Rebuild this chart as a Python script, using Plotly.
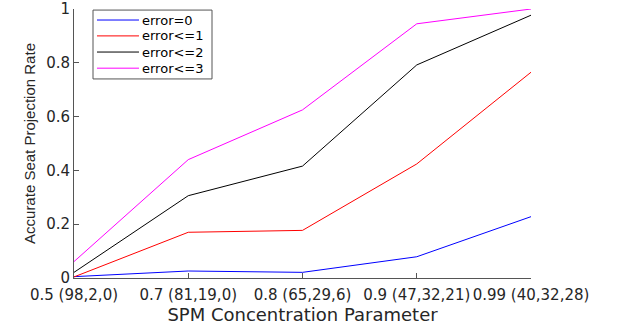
import plotly.graph_objects as go

categories = ["0.5 (98,2,0)", "0.7 (81,19,0)", "0.8 (65,29,6)", "0.9 (47,32,21)", "0.99 (40,32,28)"]
err0 = [0.005, 0.026, 0.021, 0.079, 0.228]
err1 = [0.004, 0.170, 0.177, 0.424, 0.765]
err2 = [0.021, 0.306, 0.416, 0.792, 0.977]
err3 = [0.061, 0.440, 0.625, 0.945, 1.000]
series_names = ["error=0", "error<=1", "error<=2", "error<=3"]
series_colors = ["#0000ff", "#ff0000", "#000000", "#ff00ff"]
y_ticks = [0, 0.2, 0.4, 0.6, 0.8, 1]

fig = go.Figure()
for name, vals, col in zip(series_names, [err0, err1, err2, err3], series_colors):
    fig.add_trace(go.Scatter(x=categories, y=vals, mode="lines", name=name,
                             line=dict(color=col, width=1), showlegend=False))

# legend box drawn in axis-domain coordinates
lg_x0, lg_x1, lg_y0, lg_y1 = 0.0416, 0.302, 0.740, 0.996
fig.add_shape(type="rect", xref="x domain", yref="y domain",
              x0=lg_x0, x1=lg_x1, y0=lg_y0, y1=lg_y1,
              line=dict(color="#555555", width=1), fillcolor="white", layer="above")
item_y = [0.959, 0.900, 0.840, 0.780]
for name, col, yy in zip(series_names, series_colors, item_y):
    fig.add_shape(type="line", xref="x domain", yref="y domain",
                  x0=0.0503, x1=0.1422, y0=yy, y1=yy,
                  line=dict(color=col, width=1), layer="above")
    fig.add_annotation(xref="x domain", yref="y domain", x=0.1444, y=yy,
                       text=name, showarrow=False, xanchor="left", yanchor="middle",
                       font=dict(family="DejaVu Sans", size=13, color="#000000"))

axis_col = "#262626"
fig.update_layout(
    width=618, height=328,
    margin=dict(l=74, r=87, t=9, b=50),
    paper_bgcolor="white", plot_bgcolor="white",
    font=dict(family="DejaVu Sans", color=axis_col),
    showlegend=False,
    xaxis=dict(type="category", range=[0, 4], showgrid=False, zeroline=False,
               automargin=False,
               showline=True, linecolor="#555555", linewidth=1,
               ticks="inside", ticklen=5, tickcolor="#555555", tickangle=0,
               ticklabelstandoff=3,
               tickfont=dict(family="DejaVu Sans", size=15, color=axis_col),
               title=dict(text="SPM Concentration Parameter",
                          font=dict(family="DejaVu Sans", size=18, color=axis_col),
                          standoff=4)),
    yaxis=dict(range=[0, 1], tickvals=y_ticks, ticktext=[str(v) for v in y_ticks],
               showgrid=False, zeroline=False, automargin=False,
               showline=True, linecolor="#555555", linewidth=1,
               ticks="inside", ticklen=5, tickcolor="#555555",
               tickfont=dict(family="DejaVu Sans", size=15, color=axis_col),
               title=dict(text="Accurate Seat Projection Rate",
                          font=dict(family="Liberation Sans", size=15, color=axis_col),
                          standoff=6)),
)
fig.write_html("out.html", config={"displayModeBar": False, "staticPlot": True},
               post_script="document.body.style.margin='0px';")
